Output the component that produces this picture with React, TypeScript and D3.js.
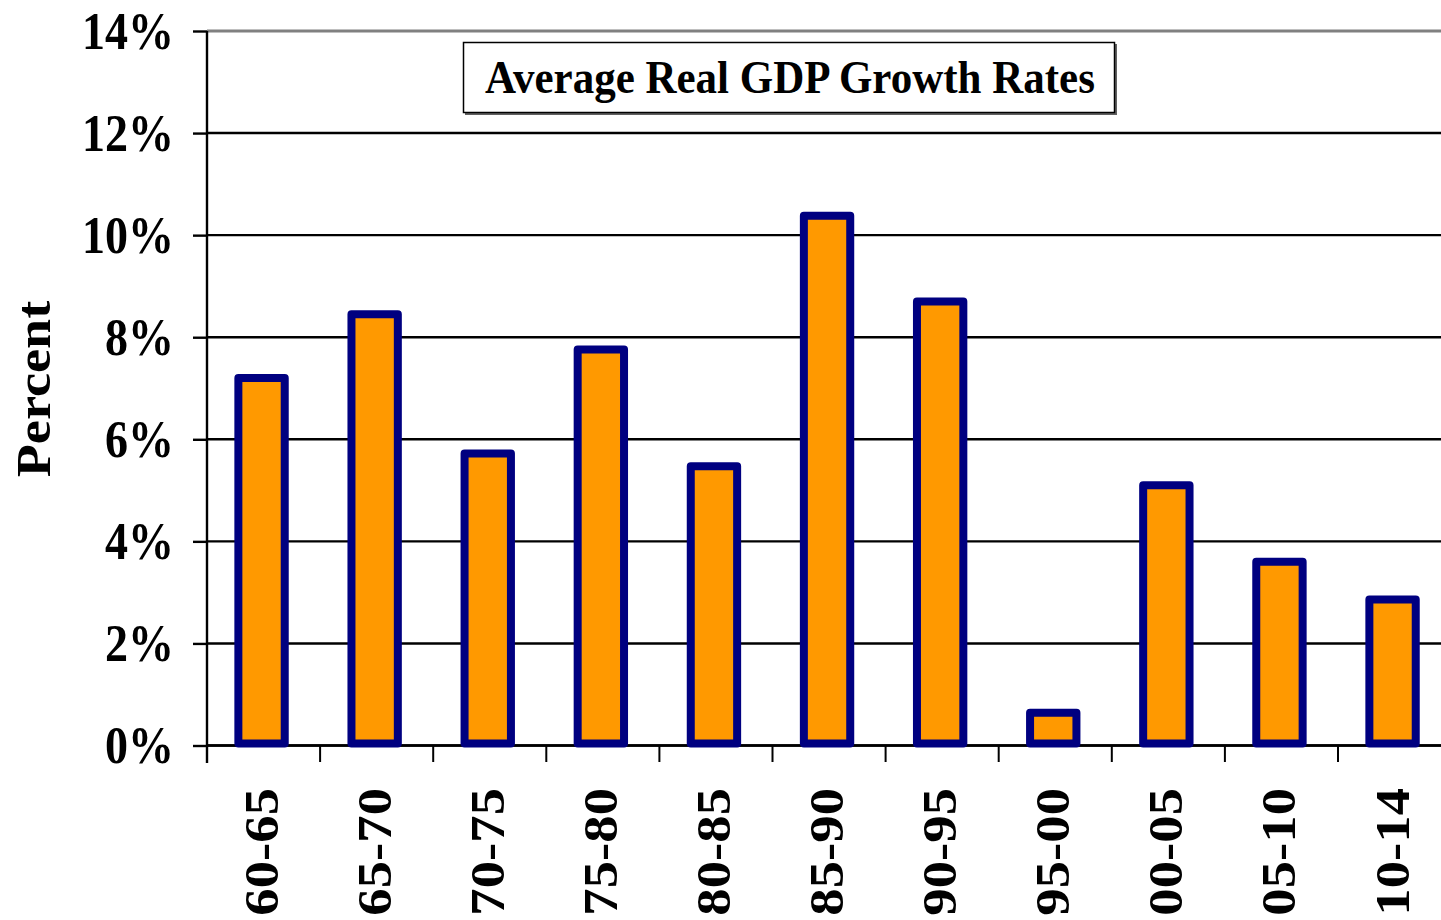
import { useEffect, useRef } from 'react';
import * as d3 from 'd3';

const periods = ['60-65', '65-70', '70-75', '75-80', '80-85', '85-90', '90-95', '95-00', '00-05', '05-10', '10-14'];
const growth = [7.2, 8.45, 5.72, 7.76, 5.47, 10.38, 8.7, 0.64, 5.1, 3.6, 2.86];
const yTicks = [0, 2, 4, 6, 8, 10, 12, 14];
const chartTitle = 'Average Real GDP Growth Rates';
const yTitle = 'Percent';

const W = 1441;
const H = 920;
const FONT = '"Liberation Serif", "Times New Roman", serif';

export default function App() {
  const ref = useRef<SVGSVGElement | null>(null);

  useEffect(() => {
    if (!ref.current) return;
    const svg = d3.select(ref.current);
    svg.selectAll('*').remove();

    const left = 207;
    const top = 31;
    const bottom = 745.5;
    const band = 113.1;

    const x = d3
      .scaleBand()
      .domain(periods)
      .range([left, left + band * periods.length])
      .paddingInner(0)
      .paddingOuter(0);
    const y = d3.scaleLinear().domain([0, 14]).range([bottom, top]);

    svg.append('rect').attr('width', W).attr('height', H).attr('fill', '#fff');

    // gridlines
    const grid = svg.append('g');
    yTicks.forEach((t) => {
      grid
        .append('line')
        .attr('x1', left)
        .attr('x2', W)
        .attr('y1', y(t))
        .attr('y2', y(t))
        .attr('stroke', t === 14 ? '#808080' : '#000')
        .attr('stroke-width', t === 14 ? 3 : 2.4);
    });

    // y ticks
    const yAxis = d3.axisLeft(y).tickValues(yTicks).tickSize(14).tickFormat(() => '');
    const ya = svg.append('g').attr('transform', `translate(${left},0)`).call(yAxis);
    ya.select('.domain').remove();
    ya.selectAll('line').attr('stroke', '#000').attr('stroke-width', 2.4);

    yTicks.forEach((t) => {
      svg
        .append('text')
        .attr('transform', `translate(174,${y(t)}) scale(1,1.13)`)
        .attr('y', '0.34em')
        .attr('text-anchor', 'end')
        .style('font-family', FONT)
        .style('font-weight', 'bold')
        .style('font-size', '46px')
        .text(`${t}%`);
    });

    // x ticks
    const xTickPos = d3.range(periods.length + 1).map((i) => left + i * band);
    xTickPos.forEach((px) => {
      svg
        .append('line')
        .attr('x1', px)
        .attr('x2', px)
        .attr('y1', bottom)
        .attr('y2', 762)
        .attr('stroke', '#000')
        .attr('stroke-width', 2);
    });

    // axes lines
    svg
      .append('line')
      .attr('x1', left)
      .attr('x2', left)
      .attr('y1', top)
      .attr('y2', 763)
      .attr('stroke', '#000')
      .attr('stroke-width', 2.4);
    svg
      .append('line')
      .attr('x1', left)
      .attr('x2', W)
      .attr('y1', bottom)
      .attr('y2', bottom)
      .attr('stroke', '#000')
      .attr('stroke-width', 2.4);

    // bars
    const barW = x.bandwidth() * 0.41;
    svg
      .append('g')
      .selectAll('rect')
      .data(growth)
      .join('rect')
      .attr('x', (d, i) => (x(periods[i]) || 0) + x.bandwidth() / 2 - barW / 2 - 2)
      .attr('y', (d) => y(d))
      .attr('width', barW)
      .attr('height', (d) => bottom - 2 - y(d))
      .attr('fill', '#FF9900')
      .attr('stroke', '#000080')
      .attr('stroke-width', 8)
      .attr('stroke-linejoin', 'round');

    // x labels
    periods.forEach((p) => {
      const cx = (x(p) || 0) + x.bandwidth() / 2 - 2;
      svg
        .append('text')
        .attr('transform', `translate(${cx + 16},788) scale(1,1.14) rotate(-90)`)
        .attr('text-anchor', 'end')
        .style('font-family', FONT)
        .style('font-weight', 'bold')
        .style('font-size', '48px')
        .text(p);
    });

    // y title
    svg
      .append('text')
      .attr('transform', `translate(50,389) scale(1,1.13) rotate(-90)`)
      .attr('text-anchor', 'middle')
      .style('font-family', FONT)
      .style('font-weight', 'bold')
      .style('font-size', '48px')
      .text(yTitle);

    // title box
    svg
      .append('rect')
      .attr('x', 465)
      .attr('y', 44)
      .attr('width', 652)
      .attr('height', 71)
      .attr('fill', '#606060');
    svg
      .append('rect')
      .attr('x', 463.5)
      .attr('y', 42.5)
      .attr('width', 651)
      .attr('height', 70)
      .attr('fill', '#fff')
      .attr('stroke', '#000')
      .attr('stroke-width', 1.5);
    svg
      .append('text')
      .attr('transform', `translate(790,93) scale(1,1.08)`)
      .attr('text-anchor', 'middle')
      .style('font-family', FONT)
      .style('font-weight', 'bold')
      .style('font-size', '43px')
      .text(chartTitle);
  }, []);

  return (
    <div style={{ position: 'absolute', top: 0, left: 0 }}>
      <svg ref={ref} width={W} height={H} style={{ display: 'block' }} />
    </div>
  );
}
